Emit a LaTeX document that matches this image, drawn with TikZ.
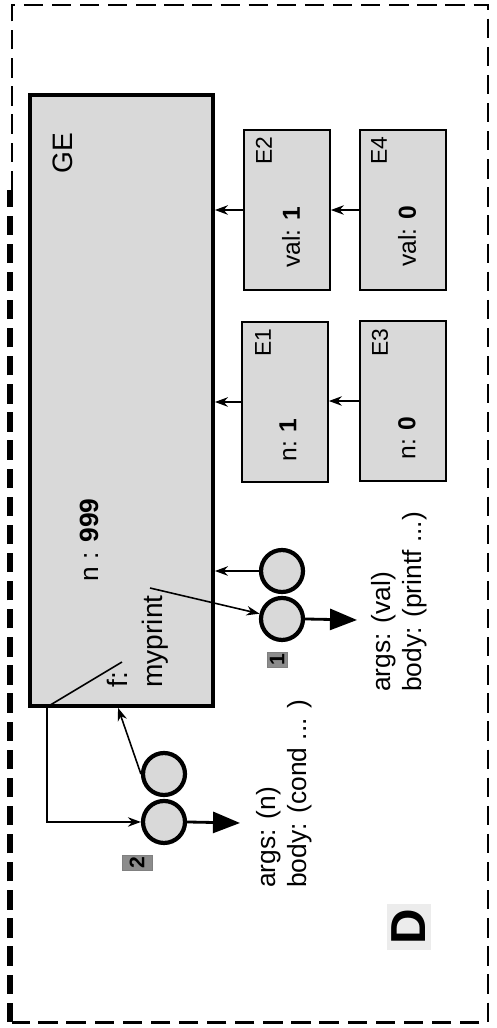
\documentclass[tikz,border=0pt]{standalone}
\usepackage{fontspec}
\setmainfont{Liberation Sans}
\usepackage{tikz}
\usetikzlibrary{arrows.meta,positioning}
\definecolor{boxc}{HTML}{D9D9D9}
\definecolor{tagc}{HTML}{8C8C8C}
\tikzset{
  frame/.style={line width=1.7pt,dash pattern=on 11pt off 5pt},
  gebox/.style={draw,line width=2.2pt,fill=boxc,minimum width=3.66cm,minimum height=12.22cm,inner sep=0pt},
  envbox/.style={draw,line width=1pt,fill=boxc,minimum width=1.72cm,minimum height=3.2cm,inner sep=0pt},
  clo/.style={circle,draw,line width=2.4pt,fill=boxc,minimum size=0.84cm,inner sep=0pt},
  ptr/.style={-{Stealth[length=2.6mm,width=1.9mm]},line width=0.9pt},
  codeptr/.style={-{Triangle[length=5.4mm,width=4.2mm]},line width=1.6pt},
  lbl/.style={rotate=90,inner sep=0pt,font=\fontsize{15}{18}\selectfont},
  tag/.style={rotate=90,draw=gray,fill=tagc,inner sep=0pt,minimum width=0.3cm,font=\fontsize{12}{12}\selectfont\bfseries}
}
\begin{document}
\begin{tikzpicture}[x=0.02cm,y=-0.02cm]
\useasboundingbox (0,0) rectangle (497,1028);
% dashed frame
\draw[frame] (12,190) |- (488,5) |- (12,1022);
\draw[frame,line width=3.6pt] (10,1022) -- (10,190);
% global environment and frames
\node[gebox] (ge) at (121.5,400.5) {};
\node[lbl,font=\fontsize{16}{18}\selectfont] (gel) at (63,153) {GE};
\node[lbl] (gen) at (89,540) {n : \textbf{999}};
\node[lbl,anchor=west,align=left,font=\fontsize{16}{20}\selectfont] (gef) at (138,688) {f:\\myprint};
\node[envbox] (e2) at (287,210) {};
\node[envbox] (e4) at (403,210) {};
\node[envbox] (e1) at (285,402) {};
\node[envbox] (e3) at (403,401) {};
\node[lbl,font=\fontsize{13}{15}\selectfont] at (264,151) {E2};
\node[lbl,font=\fontsize{13}{15}\selectfont] at (379,151) {E4};
\node[lbl,font=\fontsize{13}{15}\selectfont] at (263,343) {E1};
\node[lbl,font=\fontsize{13}{15}\selectfont] at (380,343) {E3};
\node[lbl,font=\fontsize{14}{16}\selectfont] at (291,237) {val: \textbf{1}};
\node[lbl,font=\fontsize{14}{16}\selectfont] at (407,236) {val: \textbf{0}};
\node[lbl,font=\fontsize{14}{16}\selectfont] at (288,440) {n: \textbf{1}};
\node[lbl,font=\fontsize{14}{16}\selectfont] at (407,438) {n: \textbf{0}};
\draw[ptr] (e2.west) -- (e2.west -| ge.east);
\draw[ptr] (e4.west) -- (e4.west -| e2.east);
\draw[ptr] (e1.west) -- (e1.west -| ge.east);
\draw[ptr] (e3.west) -- (e3.west -| e1.east);
% closures
\node[clo] (c1a) at (282,571) {};
\node[clo,below=1pt of c1a] (c1b) {};
\node[clo] (c2a) at (164,774) {};
\node[clo,below=1pt of c2a] (c2b) {};
\node[tag,minimum height=0.4cm] (t1) at (277,660) {1};
\node[tag,minimum height=0.6cm] (t2) at (137,863) {2};
\coordinate (mp) at (150,588);
\coordinate (fp) at (122,662);
\coordinate (fb) at (47,707);
\coordinate (a1) at (357,620);
\coordinate (a2) at (240,823);
\draw[ptr] (c1a.west) -- (c1a.west -| ge.east);
\draw[ptr] (mp) -- (c1b);
\draw[ptr] (c2a.west) -- ([xshift=1.8cm]ge.south west);
\draw[ptr] (fp) -- (fb) |- (c2b.west);
\draw[codeptr] (c1b.east) -- (a1);
\draw[codeptr] (c2b.east) -- (a2);
\node[lbl,anchor=west,align=left,font=\fontsize{15}{18}\selectfont] (b1) at (399,692) {args: (val)\\body: (printf ...)};
\node[lbl,anchor=west,align=left,font=\fontsize{15}{18}\selectfont] (b2) at (284,888) {args: (n)\\body: (cond ... )};
% panel letter
\node[lbl,fill=gray!15,inner sep=3pt,font=\fontsize{28}{30}\selectfont\bfseries] (dl) at (409,927) {D};
\end{tikzpicture}
\end{document}
